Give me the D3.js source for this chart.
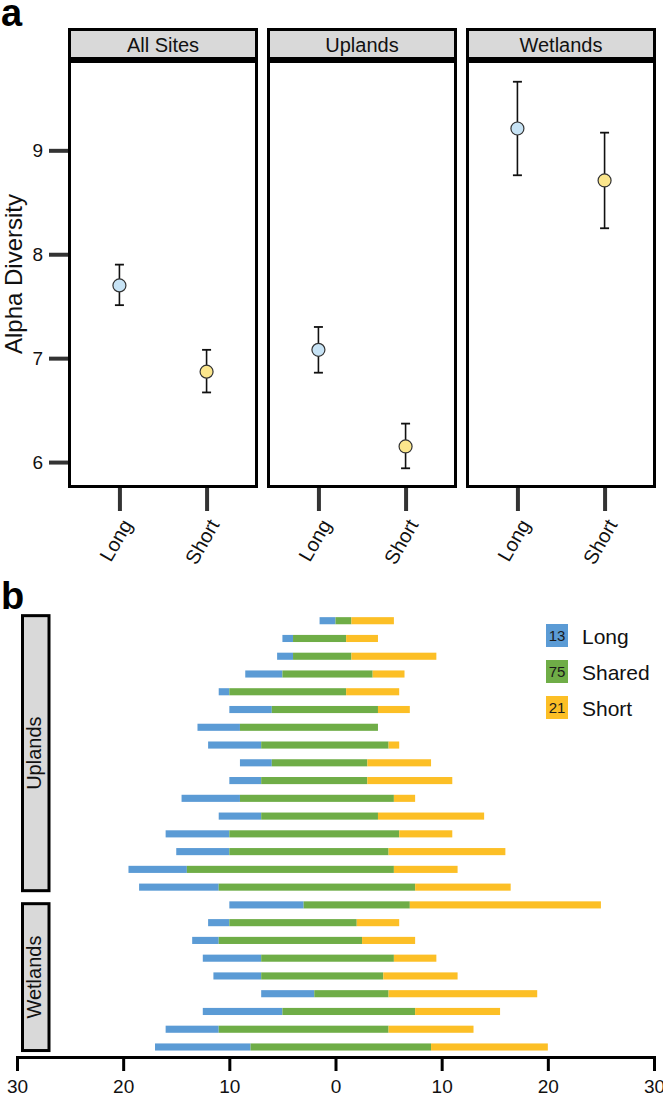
<!DOCTYPE html>
<html>
<head>
<meta charset="utf-8">
<script src="https://cdn.jsdelivr.net/npm/d3@7/dist/d3.min.js"></script>
<style>
  html, body { margin: 0; padding: 0; background: #fff; }
  svg { display: block; font-family: "Liberation Sans", Arial, Helvetica, sans-serif; }
</style>
</head>
<body>
<svg id="chart" width="663" height="1096"></svg>
<script>
// ---------------- DATA ----------------
// Panel a: alpha diversity (mean with error bars)
const facets = ["All Sites", "Uplands", "Wetlands"];
const groups = ["Long", "Short"];
const alphaMean  = [[7.70, 6.87], [7.08, 6.15], [9.21, 8.71]];
const alphaLower = [[7.51, 6.67], [6.86, 5.94], [8.76, 8.25]];
const alphaUpper = [[7.90, 7.08], [7.30, 6.37], [9.66, 9.17]];
const alphaTicks = [6, 7, 8, 9];

// Panel b: OTU counts per site (long-only, shared, short-only)
const siteHabitat = ["Uplands","Uplands","Uplands","Uplands","Uplands","Uplands","Uplands","Uplands",
                     "Uplands","Uplands","Uplands","Uplands","Uplands","Uplands","Uplands","Uplands",
                     "Wetlands","Wetlands","Wetlands","Wetlands","Wetlands","Wetlands","Wetlands","Wetlands","Wetlands"];
const longOnly  = [1.5, 1, 1.5, 3.5, 1, 4, 4, 5, 3, 3, 5.5, 4, 6, 5, 5.5, 7.5, 7, 2, 2.5, 5.5, 4.5, 5, 7.5, 5, 9];
const sharedOTU = [1.5, 5, 5.5, 8.5, 11, 10, 13, 12, 9, 10, 14.5, 11, 16, 15, 19.5, 18.5, 10, 12, 13.5, 12.5, 11.5, 7, 12.5, 16, 17];
const shortOnly = [4, 3, 8, 3, 5, 3, 0, 1, 6, 8, 2, 10, 5, 11, 6, 9, 18, 4, 5, 4, 7, 14, 8, 8, 11];
const legendKeys   = ["Long", "Shared", "Short"];
const legendTotals = [13, 75, 21];
const countTicks = [-30, -20, -10, 0, 10, 20, 30];

// ---------------- STYLE ----------------
const pointFill = { Long: "#c7e3f5", Short: "#fbe68c" };
const barColor = { Long: "#5b9bd5", Shared: "#6fad47", Short: "#fcbf26" };
const stripFill = "#d9d9d9";
const axisGrey = "#333";

const svg = d3.select("#chart");

// ================= PANEL a =================
svg.append("text").attr("x", 1).attr("y", 26)
  .attr("font-size", 38).attr("font-weight", "bold").text("a");

const panelLeft = [68, 267, 466];
const panelW = 190;
const stripTop = 28, stripBottom = 60, panelTop = 60, panelBottom = 488;

const yA = d3.scaleLinear().domain([5.76, 9.85]).range([487, 62]);

facets.forEach((f, i) => {
  const x0 = panelLeft[i];
  const g = svg.append("g");
  // strip
  g.append("rect").attr("x", x0 + 1.5).attr("y", stripTop + 1.5)
    .attr("width", panelW - 3).attr("height", stripBottom - stripTop - 3)
    .attr("fill", stripFill).attr("stroke", "#000").attr("stroke-width", 3);
  g.append("text").attr("x", x0 + panelW / 2).attr("y", (stripTop + stripBottom) / 2 + 1)
    .attr("text-anchor", "middle").attr("dominant-baseline", "central")
    .attr("font-size", 20).attr("fill", "#111").text(f);
  // panel
  g.append("rect").attr("x", x0 + 1.5).attr("y", panelTop + 1.5)
    .attr("width", panelW - 3).attr("height", panelBottom - panelTop - 3)
    .attr("fill", "#fff").attr("stroke", "#000").attr("stroke-width", 3);

  const xp = d3.scalePoint().domain(groups).range([x0, x0 + panelW]).padding(0.59);

  // x axis
  const ax = g.append("g").attr("transform", `translate(0,${panelBottom})`)
    .call(d3.axisBottom(xp).tickSize(23).tickSizeOuter(0));
  ax.select(".domain").remove();
  ax.selectAll(".tick line").attr("stroke", axisGrey).attr("stroke-width", 4);
  ax.selectAll(".tick text")
    .attr("font-size", 20).attr("fill", "#111")
    .attr("text-anchor", "end").attr("dominant-baseline", "central")
    .attr("x", 0).attr("y", 0).attr("dy", null)
    .attr("transform", "translate(7,33) rotate(-60)");

  // error bars + points
  groups.forEach((grp, j) => {
    const cx = xp(grp);
    g.append("line").attr("x1", cx).attr("x2", cx)
      .attr("y1", yA(alphaLower[i][j])).attr("y2", yA(alphaUpper[i][j]))
      .attr("stroke", "#111").attr("stroke-width", 1.6);
    [alphaLower[i][j], alphaUpper[i][j]].forEach(v => {
      g.append("line").attr("x1", cx - 4.5).attr("x2", cx + 4.5)
        .attr("y1", yA(v)).attr("y2", yA(v))
        .attr("stroke", "#111").attr("stroke-width", 1.8);
    });
    g.append("circle").attr("cx", cx).attr("cy", yA(alphaMean[i][j])).attr("r", 6.5)
      .attr("fill", pointFill[grp]).attr("stroke", "#333").attr("stroke-width", 1.2);
  });
});

// y axis panel a
const ay = svg.append("g").attr("transform", `translate(${panelLeft[0]},0)`)
  .call(d3.axisLeft(yA).tickValues(alphaTicks).tickSize(19).tickPadding(6).tickFormat(d3.format("d")));
ay.select(".domain").remove();
ay.selectAll(".tick line").attr("stroke", axisGrey).attr("stroke-width", 4);
ay.selectAll(".tick text").attr("font-size", 19).attr("fill", "#111");

svg.append("text").attr("transform", "translate(22,274) rotate(-90)")
  .attr("text-anchor", "middle").attr("font-size", 24).attr("fill", "#111")
  .text("Alpha Diversity");

// ================= PANEL b =================
svg.append("text").attr("x", 1).attr("y", 609)
  .attr("font-size", 38).attr("font-weight", "bold").text("b");

const rowIds = siteHabitat.map((_, i) => i);
const xB = d3.scaleLinear().domain([-30, 30]).range([17, 654]);
const yB = d3.scaleBand().domain(rowIds).range([606.5, 1061.2]).paddingInner(0.6).paddingOuter(0.6);

const rows = rowIds.map(i => {
  const start = -sharedOTU[i];
  const a = start, b = a + longOnly[i], c = b + sharedOTU[i], d = c + shortOnly[i];
  return { i, segs: [["Long", a, b], ["Shared", b, c], ["Short", c, d]] };
});

const barsG = svg.append("g");
rows.forEach(r => {
  r.segs.forEach(([k, s, e]) => {
    if (e <= s) return;
    barsG.append("rect")
      .attr("x", xB(s)).attr("width", xB(e) - xB(s))
      .attr("y", yB(r.i)).attr("height", yB.bandwidth())
      .attr("fill", barColor[k]);
  });
});

// habitat strips
const habitats = ["Uplands", "Wetlands"];
let prevBottom = null;
habitats.forEach(h => {
  const idx = rowIds.filter(i => siteHabitat[i] === h);
  const top = prevBottom === null ? yB(idx[0]) - 3 : prevBottom + 10;
  const bottom = yB(idx[idx.length - 1]) + yB.bandwidth() + 1.5;
  prevBottom = bottom;
  svg.append("rect").attr("x", 22.5).attr("y", top + 1.5)
    .attr("width", 26.5).attr("height", bottom - top - 3)
    .attr("fill", stripFill).attr("stroke", "#000").attr("stroke-width", 3);
  svg.append("text").attr("transform", `translate(41,${(top + bottom) / 2}) rotate(-90)`)
    .attr("text-anchor", "middle").attr("font-size", 20).attr("fill", "#111").text(h);
});

// x axis panel b
const axB = svg.append("g").attr("transform", "translate(0,1057)")
  .call(d3.axisBottom(xB).tickValues(countTicks).tickSize(14).tickSizeOuter(14).tickPadding(9)
    .tickFormat(d => Math.abs(d)));
axB.select(".domain").attr("stroke", "#000").attr("stroke-width", 3);
axB.selectAll(".tick line").attr("stroke", "#000").attr("stroke-width", 3);
axB.selectAll(".tick text").attr("font-size", 19).attr("fill", "#111");

// legend
const lg = svg.append("g");
legendKeys.forEach((k, i) => {
  const y0 = 624 + i * 36;
  lg.append("rect").attr("x", 546).attr("y", y0).attr("width", 22).attr("height", 23)
    .attr("fill", barColor[k]);
  lg.append("text").attr("x", 557).attr("y", y0 + 11.5)
    .attr("text-anchor", "middle").attr("dominant-baseline", "central")
    .attr("font-size", 15).attr("fill", "#1a1a1a").text(legendTotals[i]);
  lg.append("text").attr("x", 582).attr("y", y0 + 12)
    .attr("dominant-baseline", "central")
    .attr("font-size", 21).attr("fill", "#111").text(k);
});
</script>
</body>
</html>
